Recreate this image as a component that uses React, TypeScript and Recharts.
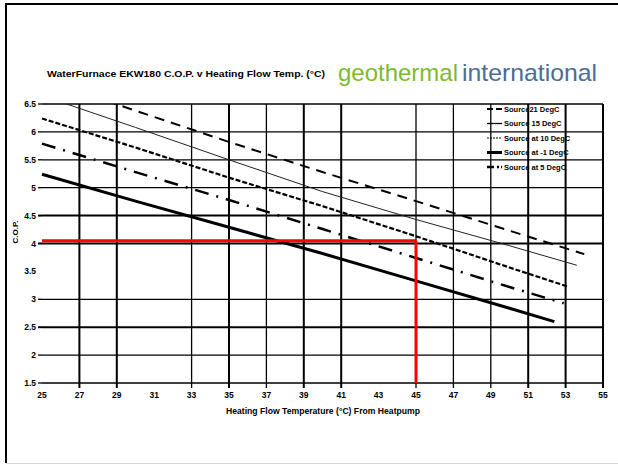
import React from 'react';
import { LineChart, Line, XAxis, YAxis, ReferenceLine } from 'recharts';

// ---------- data ----------
const X_TICKS = [25, 27, 29, 31, 33, 35, 37, 39, 41, 43, 45, 47, 49, 51, 53, 55];
const Y_TICKS = [1.5, 2, 2.5, 3, 3.5, 4, 4.5, 5, 5.5, 6, 6.5];
const X_GRID = [27, 29, 33, 35, 37, 39, 41, 45, 47, 49, 51, 53, 55];
const Y_GRID = [1.5, 2, 2.5, 3, 4, 4.5, 5, 5.5, 6, 6.5];

const SERIES_NAMES = ['Source21 DegC', 'Source 15 DegC', 'Source at 10 DegC', 'Source at -1 DegC', 'Source at 5 DegC'];

const FLOW_S21 = [25, 30, 35, 40, 45, 50, 54];
const COP_S21 = [6.95, 6.38, 5.82, 5.28, 4.76, 4.23, 3.81];
const FLOW_S15 = [25, 30, 35, 40, 45, 50, 53.6];
const COP_S15 = [6.65, 6.08, 5.5, 4.93, 4.43, 3.96, 3.61];
const FLOW_S10 = [25, 30, 35, 40, 45, 50, 53.1];
const COP_S10 = [6.24, 5.72, 5.18, 4.67, 4.13, 3.57, 3.23];
const FLOW_SM1 = [25, 30, 35, 40, 45, 50, 52.4];
const COP_SM1 = [5.24, 4.76, 4.29, 3.82, 3.33, 2.84, 2.6];
const FLOW_S5 = [25, 30, 35, 40, 45, 50, 52.9];
const COP_S5 = [5.79, 5.28, 4.78, 4.26, 3.74, 3.22, 2.93];

const TARGET_FLOW = 45;
const TARGET_COP = 4.05;

const TITLE = 'WaterFurnace EKW180  C.O.P. v Heating Flow Temp. (\u00B0C)';
const X_TITLE = 'Heating Flow Temperature (\u00B0C) From Heatpump';
const Y_TITLE = 'C.O.P.';

// ---------- build ----------
const zip = (xs: number[], ys: number[]) => xs.map((t, i) => ({ flow: t, cop: ys[i] }));
const SERIES = [
  zip(FLOW_S21, COP_S21),
  zip(FLOW_S15, COP_S15),
  zip(FLOW_S10, COP_S10),
  zip(FLOW_SM1, COP_SM1),
  zip(FLOW_S5, COP_S5),
];

const STYLES = [
  { stroke: '#000', width: 2, dash: '10 7', legendDash: '6 3', legendWidth: 2 },
  { stroke: '#222', width: 1, dash: undefined, legendDash: undefined, legendWidth: 1.3 },
  { stroke: '#000', width: 2.2, dash: '5 2', legendDash: '2 1', legendWidth: 1.2 },
  { stroke: '#000', width: 3, dash: undefined, legendDash: undefined, legendWidth: 3 },
  { stroke: '#000', width: 2.5, dash: '14 8 2 8', legendDash: '7 3 2 2 2 2', legendWidth: 2.5 },
];

const THICK_X = [27, 29, 35, 39, 41, 51, 53, 55];
const THICK_Y = [4.5, 4, 2.5];

const FONT = "'Liberation Sans', Arial, sans-serif";

const XTick = (props: any) => {
  const { x, y, payload } = props;
  const v = payload.value;
  return (
    <g>
      {X_GRID.includes(v) && (
        <line x1={x} x2={x} y1={y - 6} y2={y - 1} stroke="#000" strokeWidth={THICK_X.includes(v) ? 2 : 1.3} />
      )}
      <text x={x} y={y + 9} textAnchor="middle" fontFamily={FONT} fontWeight="bold" fontSize={8.5} fill="#000">
        {v}
      </text>
    </g>
  );
};

const YTick = (props: any) => {
  const { x, y, payload } = props;
  const v = payload.value;
  return (
    <g>
      {Y_GRID.includes(v) && (
        <line x1={x + 2} x2={x + 6} y1={y} y2={y} stroke="#000" strokeWidth={THICK_Y.includes(v) ? 2 : 1.3} />
      )}
      <text x={x} y={y + 3} textAnchor="end" fontFamily={FONT} fontWeight="bold" fontSize={8.5} fill="#000">
        {v}
      </text>
    </g>
  );
};

export default function App() {
  return (
    <div style={{ position: 'absolute', left: 0, top: 0, width: 618, height: 465, background: '#fff' }}>
      <LineChart width={618} height={465} margin={{ top: 104, right: 15, bottom: 0, left: 0 }}>
        <XAxis
          dataKey="flow"
          type="number"
          domain={[25, 55]}
          ticks={X_TICKS}
          height={82}
          axisLine={false}
          tickLine={false}
          tickSize={4}
          tickMargin={2}
          tick={XTick}
          interval={0}
          allowDuplicatedCategory={false}
        />
        <YAxis
          dataKey="cop"
          type="number"
          domain={[1.5, 6.5]}
          ticks={Y_TICKS}
          width={42}
          axisLine={false}
          tickLine={false}
          tickSize={4}
          tickMargin={2}
          tick={YTick}
          interval={0}
          allowDataOverflow
        />
        {Y_GRID.map((v) => (
          <ReferenceLine key={'gy' + v} y={v} stroke="#000" strokeWidth={THICK_Y.includes(v) ? 2 : 1.3} />
        ))}
        {X_GRID.map((v) => (
          <ReferenceLine key={'gx' + v} x={v} stroke="#000" strokeWidth={THICK_X.includes(v) ? 2 : 1.3} />
        ))}
        {SERIES.map((d, i) => (
          <Line
            key={SERIES_NAMES[i]}
            data={d}
            dataKey="cop"
            name={SERIES_NAMES[i]}
            type="linear"
            stroke={STYLES[i].stroke}
            strokeWidth={STYLES[i].width}
            strokeDasharray={STYLES[i].dash}
            dot={false}
            activeDot={false}
            isAnimationActive={false}
          />
        ))}
        <ReferenceLine
          segment={[{ x: 25, y: TARGET_COP }, { x: TARGET_FLOW, y: TARGET_COP }]}
          stroke="#ff0000"
          strokeWidth={3}
        />
        <ReferenceLine
          segment={[{ x: TARGET_FLOW, y: TARGET_COP }, { x: TARGET_FLOW, y: 1.5 }]}
          stroke="#ff0000"
          strokeWidth={3}
        />
      </LineChart>
      <svg
        width={618}
        height={465}
        style={{ position: 'absolute', left: 0, top: 0, pointerEvents: 'none' }}
      >
        <line x1={5} x2={618} y1={4} y2={4} stroke="#000" strokeWidth={2} />
        <line x1={6} x2={6} y1={3} y2={463} stroke="#000" strokeWidth={2} />
        <line x1={6} x2={618} y1={463.5} y2={463.5} stroke="#d8d8d8" strokeWidth={1} />
        <text x={47} y={77} fontFamily={FONT} fontWeight="bold" fontSize={9.5} textLength={278} lengthAdjust="spacingAndGlyphs" fill="#000">
          {TITLE}
        </text>
        <text x={338} y={81} fontFamily={FONT} fontSize={24} fill="#7dba2f" textLength={120} lengthAdjust="spacingAndGlyphs">
          geothermal
        </text>
        <text x={462} y={81} fontFamily={FONT} fontSize={24} fill="#4c6d92" textLength={135} lengthAdjust="spacingAndGlyphs">
          international
        </text>
        <text x={323} y={414} textAnchor="middle" fontFamily={FONT} fontWeight="bold" fontSize={8.5} textLength={194} lengthAdjust="spacingAndGlyphs" fill="#000">
          {X_TITLE}
        </text>
        <text
          x={0}
          y={0}
          transform="translate(18 232) rotate(-90)"
          textAnchor="middle"
          fontFamily={FONT}
          fontWeight="bold"
          fontSize={8}
          fill="#000"
        >
          {Y_TITLE}
        </text>
        {SERIES_NAMES.map((n, i) => {
          const y = 109 + i * 14.5;
          const s = STYLES[i];
          return (
            <g key={n}>
              <line x1={487} x2={502} y1={y} y2={y} stroke="#000" strokeWidth={s.legendWidth} strokeDasharray={s.legendDash} />
              <text x={504} y={y + 2.7} fontFamily={FONT} fontWeight="bold" fontSize={7.5} fill="#000">
                {n}
              </text>
            </g>
          );
        })}
      </svg>
    </div>
  );
}
